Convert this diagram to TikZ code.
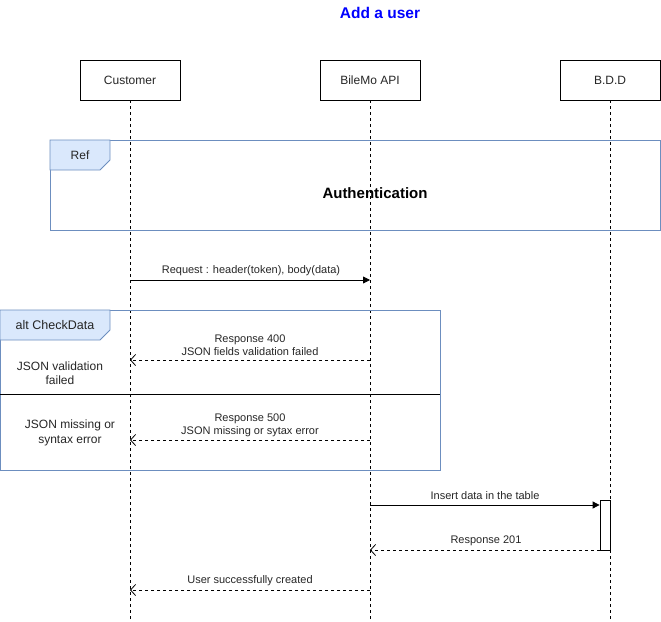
\documentclass[tikz,border=0pt]{standalone}
\usepackage{fontspec}
\setmainfont{Liberation Sans}
\usetikzlibrary{arrows.meta}
\definecolor{frameblue}{HTML}{6C8EBF}
\definecolor{tabfill}{HTML}{DAE8FC}
\definecolor{titleblue}{HTML}{0000FF}
\tikzset{
  x=1pt, y=-1pt,
  actor/.style={draw=black, fill=white, line width=0.8pt, minimum width=100pt, minimum height=40pt, inner sep=0pt, font=\fontsize{12}{14}\selectfont, text=black!85},
  lifeline/.style={draw=black, line width=0.8pt, dash pattern=on 3pt off 3pt},
  frame/.style={draw=frameblue, line width=0.8pt},
  tab/.style={draw=frameblue, fill=tabfill, line width=0.8pt},
  msg/.style={font=\fontsize{11}{13}\selectfont, text=black!85, inner sep=1pt},
  call/.style={draw=black, line width=0.8pt, -{Triangle[length=7pt,width=7pt]}},
  reply/.style={draw=black, line width=0.8pt, dash pattern=on 3pt off 3pt, -{Straight Barb[length=5pt,width=11pt]}},
  note/.style={font=\fontsize{12}{14.5}\selectfont, text=black!85, align=center},
}
\begin{document}
\begin{tikzpicture}
\useasboundingbox (0,0) rectangle (661,621);

% title
\node[font=\bfseries\fontsize{15.5}{18}\selectfont, text=titleblue] (title) at (380,13) {Add a user};

% lifelines
\coordinate (cEnd) at (130,620);
\coordinate (aEnd) at (370,620);
\coordinate (dEnd) at (610,620);
\draw[lifeline] (130,100) -- (cEnd);
\draw[lifeline] (370,100) -- (aEnd);
\draw[lifeline] (610,100) -- (dEnd);

% participants
\node[actor] (cust) at (130,80) {Customer};
\node[actor] (api) at (370,80) {BileMo API};
\node[actor] (bdd) at (610,80) {B.D.D};

% reference frame
\draw[frame] (50,140) rectangle (660,230);
\draw[tab] (50,140) -- (110,140) -- (110,160) -- (100,170) -- (50,170) -- cycle;
\node[font=\fontsize{12}{14}\selectfont, text=black!85] (reflbl) at (80,155) {Ref};
\node[font=\bfseries\fontsize{15}{18}\selectfont] (auth) at (375,193) {Authentication};

% anchors on lifelines
\coordinate (c1) at (130,280); \coordinate (a1) at (370,280);
\coordinate (c2) at (130,360); \coordinate (a2) at (370,360);
\coordinate (c3) at (130,440); \coordinate (a3) at (370,440);
\coordinate (a4) at (370,505); \coordinate (d4) at (600,505);
\coordinate (a5) at (370,550); \coordinate (d5) at (600,550);
\coordinate (c6) at (130,590); \coordinate (a6) at (370,590);

% request
\draw[call] (c1) -- (a1);
\node[msg] (m1) at (251,271) {Request : header(token), body(data)};

% alternative frame
\draw[frame] (0,310) rectangle (440,470);
\draw[tab] (0,310) -- (110,310) -- (110,330) -- (100,340) -- (0,340) -- cycle;
\node[font=\fontsize{12.5}{14}\selectfont, text=black!85] (altlbl) at (55,325) {alt CheckData};
\coordinate (divL) at (0,394); \coordinate (divR) at (440,394);
\draw[black, line width=0.8pt] (divL) -- (divR);
\node[note] (g1) at (60,373) {JSON validation\\failed};
\node[note] (g2) at (70,433) {JSON missing or\\syntax error};

\draw[reply] (a2) -- (c2);
\node[msg, align=center] (m2) at (250,345) {Response 400\\JSON fields validation failed};
\draw[reply] (a3) -- (c3);
\node[msg, align=center] (m3) at (250,425) {Response 500\\JSON missing or sytax error};

% database activation
\node[draw=black, fill=white, line width=0.8pt, minimum width=10pt, minimum height=50pt, inner sep=0pt] (act) at (605,525) {};
\draw[call] (a4) -- (act.west |- a4);
\node[msg] (m4) at (485,496) {Insert data in the table};
\draw[reply] (act.west |- a5) -- (a5);
\node[msg] (m5) at (486,541) {Response 201};

\draw[reply] (a6) -- (c6);
\node[msg] (m6) at (250,581) {User successfully created};
\end{tikzpicture}
\end{document}
